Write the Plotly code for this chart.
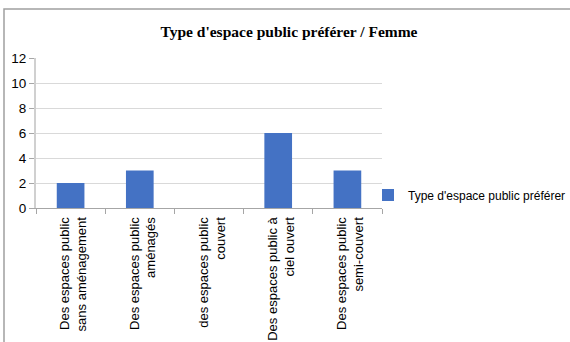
import plotly.graph_objects as go

categories = [
    "Des espaces public<br>sans aménagement",
    "Des espaces public<br>aménagés",
    "des espaces public<br>couvert",
    "Des espaces public à<br>ciel ouvert",
    "Des espaces public<br>semi-couvert",
]
values = [2, 3, 0, 6, 3]
series_name = "Type d'espace public préférer"
title_text = "Type d'espace public préférer / Femme"
y_ticks = [0, 2, 4, 6, 8, 10, 12]

W, H = 570, 342
L, R, T, B = 36, 188, 58, 134
pw = W - L - R
ph = H - T - B

fig = go.Figure()
fig.add_trace(go.Bar(
    x=categories, y=values, name=series_name,
    marker=dict(color="#4472C4", line=dict(width=0)),
    width=0.4, showlegend=True,
))

font_narrow = "Liberation Sans Narrow, Arial Narrow, Liberation Sans, sans-serif"

fig.update_layout(
    width=W, height=H,
    margin=dict(l=L, r=R, t=T, b=B, pad=0, autoexpand=False),
    paper_bgcolor="white", plot_bgcolor="white",
    title=dict(
        text="<b>" + title_text + "</b>",
        font=dict(family="Liberation Serif, Times New Roman, serif", size=15.5, color="#000000"),
        x=289 / W, xref="container", xanchor="center",
        y=1 - 32 / H, yref="container", yanchor="middle",
    ),
    showlegend=True,
    legend=dict(
        x=(368 - L) / pw, xanchor="left", xref="paper",
        y=(H - B - 195) / ph, yanchor="middle", yref="paper",
        font=dict(family=font_narrow, size=12, color="#000000"),
        bgcolor="rgba(0,0,0,0)",
        itemwidth=30,
    ),
    xaxis=dict(
        type="category",
        tickangle=-90,
        tickson="boundaries",
        ticks="outside", ticklen=5, tickcolor="#a6a6a6",
        showline=True, linecolor="#a6a6a6", linewidth=1,
        showgrid=False,
        tickfont=dict(family=font_narrow, size=13, color="#000000"),
        range=[-0.5, 4.5],
        automargin=False,
        ticklabelshift=3,
        ticklabelstandoff=3,
    ),
    yaxis=dict(
        range=[0, 12],
        tickvals=y_ticks,
        ticksuffix="\u2002",
        ticks="outside", ticklen=5, tickcolor="#a6a6a6",
        showline=True, linecolor="#d0d0d0", linewidth=2,
        showgrid=True, gridcolor="#d9d9d9", gridwidth=1,
        zeroline=False,
        tickfont=dict(family=font_narrow, size=13.5, color="#000000"),
        automargin=False,
    ),
    bargap=0.6,
)

fig.add_shape(
    type="rect", xref="paper", yref="paper",
    x0=(4 - L) / pw, x1=(W + 20 - L) / pw,
    y0=-(B + 20) / ph, y1=(H - B - 9) / ph,
    line=dict(color="#a0a0a0", width=1.5),
    fillcolor="rgba(0,0,0,0)", layer="below",
)

fig.write_html(
    "out.html",
    config={"displayModeBar": False},
    post_script="document.body.style.margin='0';document.body.style.overflow='hidden';",
)
